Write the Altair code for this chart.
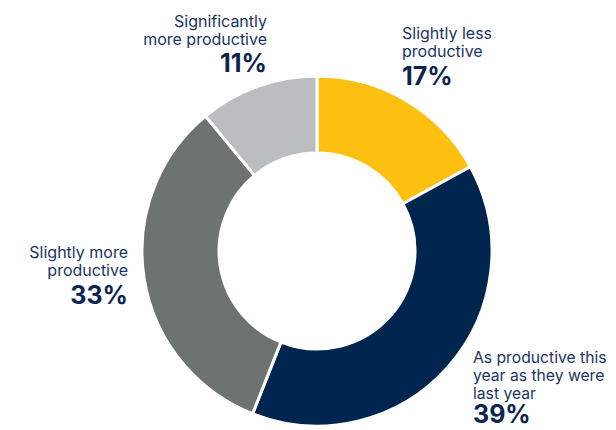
import altair as alt
import pandas as pd

categories = ["Slightly less productive", "As productive this year as they were last year",
              "Slightly more productive", "Significantly more productive"]
values = [17, 39, 33, 11]
colors = ["#FDC010", "#00264F", "#6C7370", "#BBBEC0"]
order = [0, 1, 2, 3]

df = pd.DataFrame({"category": categories, "value": values, "order": order})

W, H = 600, 422
CX, CY = 309, 243

arcs = alt.Chart(df).mark_arc(outerRadius=175, innerRadius=98, stroke="white", strokeWidth=3).encode(
    theta=alt.Theta("value:Q", stack=True),
    order=alt.Order("order:Q"),
    color=alt.Color("category:N", scale=alt.Scale(domain=categories, range=colors), legend=None),
    x=alt.value(CX),
    y=alt.value(CY),
)

LABEL_COLOR = "#1C3461"
PCT_COLOR = "#0B2550"
FONT = "Inter"

def label(text, x, y, align, size=16):
    return alt.Chart(pd.DataFrame({"t": [text]})).mark_text(
        align=align, baseline="alphabetic", font=FONT, fontSize=size, lineHeight=18,
        color=LABEL_COLOR, lineBreak="\n"
    ).encode(text="t:N", x=alt.value(x), y=alt.value(y))

def pct(v, x, y, align):
    return alt.Chart(pd.DataFrame({"t": [f"{v}%"]})).mark_text(
        align=align, baseline="alphabetic", font=FONT, fontSize=25, fontWeight="bold",
        color=PCT_COLOR
    ).encode(text="t:N", x=alt.value(x), y=alt.value(y))

layers = [
    arcs,
    label("Significantly\nmore productive", 259, 19, "right"),
    pct(values[3], 259, 64, "right"),
    label("Slightly less\nproductive", 394, 31, "left"),
    pct(values[0], 394, 77, "left"),
    label("Slightly more\nproductive", 120, 250, "right"),
    pct(values[2], 120, 296, "right"),
    label("As productive this\nyear as they were\nlast year", 465, 355, "left", 15.7),
    pct(values[1], 465, 415, "left"),
]

chart = alt.layer(*layers).properties(
    width=W, height=H, padding=0, autosize=alt.AutoSizeParams(type="none")
).configure_view(stroke=None)

chart.save("out.html", embed_options={"renderer": "svg", "actions": False})
